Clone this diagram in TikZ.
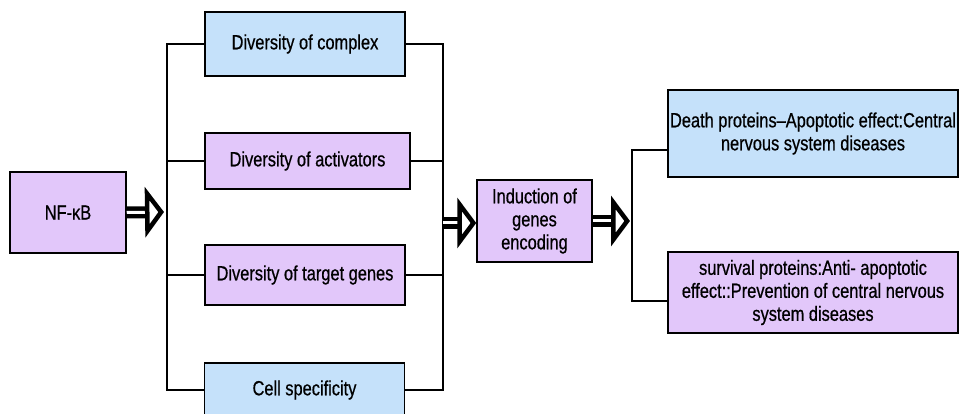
\documentclass[tikz,border=0pt]{standalone}
\usepackage{fontspec}
\setmainfont{Liberation Sans}[FakeStretch=0.8, FakeBold=0.6]
\usepackage{tikz}
\usetikzlibrary{arrows.meta}
\definecolor{boxblue}{RGB}{197,225,250}
\definecolor{boxpurple}{RGB}{226,199,250}

\begin{document}
\begin{tikzpicture}[x=1pt, y=-1pt,
    box/.style={draw, line width=1.5pt, inner sep=2pt, align=center, font=\fontsize{20.5}{23}\selectfont},
    conn/.style={line width=2.8pt},
    fat/.style={double, line width=4.5pt, double distance=3pt, -{Triangle[open, length=19pt, width=50pt, line width=4.5pt]}}]
    \useasboundingbox (0,0) rectangle (959,414);
    \node[box, fill=boxpurple, minimum width=116pt, minimum height=81pt] (nfkb) at (68,212.5) {NF-κB};
    \node[box, fill=boxblue, minimum width=200pt, minimum height=64pt] (complex) at (305,44) {Diversity of complex};
    \node[box, fill=boxpurple, minimum width=205pt, minimum height=56pt] (activ) at (307.5,161) {Diversity of activators};
    \node[box, fill=boxpurple, minimum width=200pt, minimum height=60pt] (target) at (305,275) {Diversity of target genes};
    \node[box, fill=boxblue, minimum width=200pt, minimum height=54pt] (cell) at (304.5,390) {Cell specificity};
    \node[box, fill=boxpurple, minimum width=115pt, minimum height=82pt] (induc) at (534.5,221) {Induction of\\genes\\encoding};
    \node[box, fill=boxblue, minimum width=290pt, minimum height=87pt] (death) at (813,133.5) {Death proteins--Apoptotic effect:Central\\nervous system diseases};
    \node[box, fill=boxpurple, minimum width=290pt, minimum height=81pt] (surv) at (813,292.5) {survival proteins:Anti- apoptotic\\effect::Prevention of central nervous\\system diseases};
    % brackets
    \coordinate (lmid) at (167,212);
    \coordinate (rmid) at (443,223);
    \coordinate (rt) at (632,150);
    \coordinate (rb) at (632,301);
    \draw[conn] (complex.west) -| (lmid) |- (cell.west);
    \draw[conn] (activ.west) -- (activ.west -| lmid);
    \draw[conn] (target.west) -- (target.west -| lmid);
    \draw[conn] (complex.east) -| (rmid) |- (cell.east);
    \draw[conn] (activ.east) -- (activ.east -| rmid);
    \draw[conn] (target.east) -- (target.east -| rmid);
    \draw[conn] (death.west |- rt) -- (rt) -- (rb) -- (surv.west |- rb);
    % arrows
    \draw[fat] (nfkb.east) -- ([xshift=-3pt]lmid);
    \draw[fat] (rmid) -- (induc.west |- rmid);
    \draw[fat] (induc.east) -- ([xshift=-2pt]rt |- induc.east);
\end{tikzpicture}
\end{document}
